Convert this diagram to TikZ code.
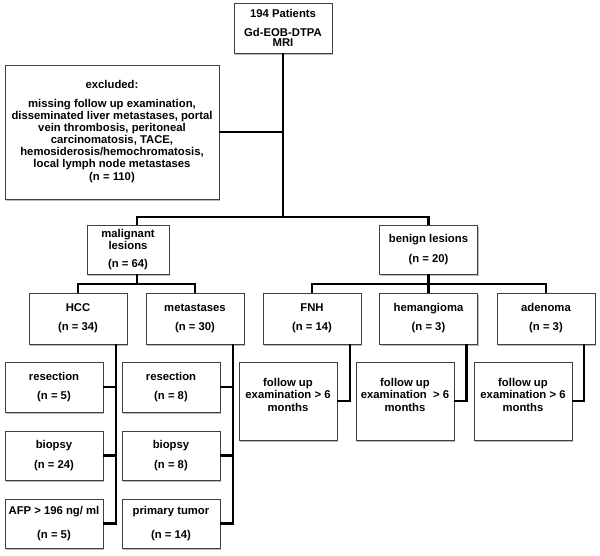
\documentclass[tikz,border=0pt]{standalone}
\usepackage{fontspec}
\setmainfont{Liberation Sans}
\usetikzlibrary{shadows}
\begin{document}
\begin{tikzpicture}[x=1pt,y=-1pt,
  box/.style={draw=black!75, line width=0.8pt, fill=white,
    drop shadow={shadow xshift=1.2pt, shadow yshift=-1.6pt, fill=black!45, opacity=0.6},
    align=center, inner sep=0pt,
    font=\bfseries\fontsize{11.3}{12.5}\selectfont},
  wide/.style={minimum width=98pt},
  conn/.style={line width=2.6pt, line join=miter, draw=black}]
\useasboundingbox (0,0) rectangle (600,556);

% level 0
\node[box, wide, minimum height=50pt] (top) at (283,28) {194 Patients\\[7pt]Gd-EOB-DTPA\\[-2.5pt]MRI};
\node[box, minimum width=214pt, minimum height=134pt,
  font=\bfseries\fontsize{11.3}{12.1}\selectfont] (excl) at (112,132)
  {excluded:\\[6.2pt]missing follow up examination,\\disseminated liver metastases, portal\\vein thrombosis, peritoneal\\carcinomatosis, TACE,\\hemosiderosis/hemochromatosis,\\local lymph node metastases\\[1.2pt](n = 110)};

% level 1
\node[box, minimum width=82pt, minimum height=49pt] (mal) at (128,249.5) {malignant\\lesions\\[5pt](n = 64)};
\node[box, wide, minimum height=49pt] (ben) at (428.5,249.5) {benign lesions\\[7.5pt](n = 20)};

% level 2
\node[box, wide, minimum height=51pt] (hcc) at (78,318.5) {HCC\\[6.5pt](n = 34)};
\node[box, wide, minimum height=51pt] (met) at (195,318.5) {metastases\\[6.5pt](n = 30)};
\node[box, wide, minimum height=51pt] (fnh) at (312,318.5) {FNH\\[6.5pt](n = 14)};
\node[box, wide, minimum height=51pt] (hem) at (428.5,318.5) {hemangioma\\[6.5pt](n = 3)};
\node[box, wide, minimum height=51pt] (ade) at (546,318.5) {adenoma\\[6.5pt](n = 3)};

% level 3
\node[box, wide, minimum height=50pt] (res1) at (54,387) {resection\\[6pt](n = 5)};
\node[box, wide, minimum height=49pt] (bio1) at (54,455.5) {biopsy\\[7pt](n = 24)};
\node[box, wide, minimum height=49pt] (afp) at (54,523.5) {AFP > 196 ng/ ml\\[11pt](n = 5)};
\node[box, wide, minimum height=50pt] (res2) at (171,387) {resection\\[6pt](n = 8)};
\node[box, wide, minimum height=49pt] (bio2) at (171,455.5) {biopsy\\[7pt](n = 8)};
\node[box, wide, minimum height=49pt] (prim) at (171,523.5) {primary tumor\\[11pt](n = 14)};
\node[box, wide, minimum height=78pt] (fu1) at (288,401) {follow up\\examination > 6\\months\\\mbox{}};
\node[box, wide, minimum height=78pt] (fu2) at (405,401) {follow up\\examination~ > 6\\months\\\mbox{}};
\node[box, wide, minimum height=78pt] (fu3) at (523,401) {follow up\\examination > 6\\months\\\mbox{}};

% junction coordinates
\coordinate (mainL) at (137,217);
\coordinate (mainR) at (428.5,217);
\coordinate (msub) at (137,284);
\coordinate (bsub) at (428.5,284);
\coordinate (hccL) at (116,0);
\coordinate (metL) at (233,0);
\coordinate (fnhL) at (350,0);
\coordinate (hemL) at (466.5,0);
\coordinate (adeL) at (584,0);

% connectors
\draw[conn] (top.south) -- (top.south |- mainR);
\draw[conn] (excl.east) -- (excl.east -| top.south);
\draw[conn] (mal.north -| mainL) |- (mainR) -- (ben.north);
\draw[conn] (mal.south -| msub) -- (msub);
\draw[conn] (hcc.north) |- (msub) -| (met.north);
\draw[conn] (ben.south) -- (bsub);
\draw[conn] (fnh.north) |- (bsub) -| (ade.north);
\draw[conn] (hem.north) -- (hem.north |- bsub);

\draw[conn] (hcc.south -| hccL) -- (hccL |- afp.east) -- (afp.east);
\draw[conn] (res1.east) -- (res1.east -| hccL);
\draw[conn] (bio1.east) -- (bio1.east -| hccL);
\draw[conn] (met.south -| metL) -- (metL |- prim.east) -- (prim.east);
\draw[conn] (res2.east) -- (res2.east -| metL);
\draw[conn] (bio2.east) -- (bio2.east -| metL);
\draw[conn] (fnh.south -| fnhL) -- (fnhL |- fu1.east) -- (fu1.east);
\draw[conn] (hem.south -| hemL) -- (hemL |- fu2.east) -- (fu2.east);
\draw[conn] (ade.south -| adeL) -- (adeL |- fu3.east) -- (fu3.east);
\end{tikzpicture}
\end{document}
